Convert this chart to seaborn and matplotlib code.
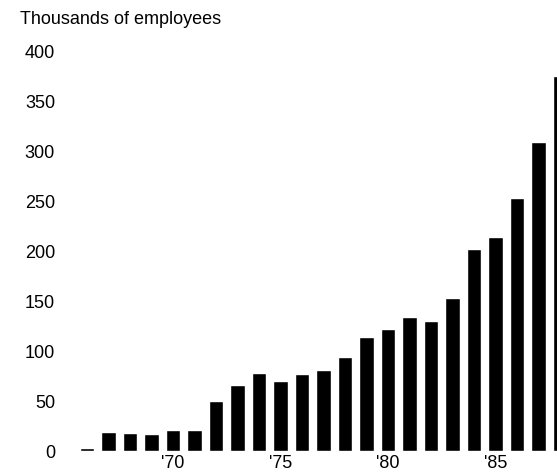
import matplotlib
matplotlib.use("Agg")
import matplotlib.pyplot as plt
import seaborn as sns
import pandas as pd

# Employees (thousands) per year
years = list(range(1966, 1989))
employees = [3, 19, 18, 17, 21, 21, 50, 66, 78, 70, 77, 81, 94, 114,
             122, 134, 130, 153, 202, 214, 253, 309, 375]
tick_years = [1970, 1975, 1980, 1985]
tick_labels = ["'70", "'75", "'80", "'85"]
y_ticks = [0, 50, 100, 150, 200, 250, 300, 350, 400]

df = pd.DataFrame({'Year': [str(y) for y in years], 'Employees': employees})

sns.set_style('white')
plt.rcParams['font.family'] = ['Liberation Sans', 'DejaVu Sans']
plt.rcParams['text.color'] = 'black'
plt.rcParams['xtick.color'] = 'black'
plt.rcParams['ytick.color'] = 'black'

W, H = 557, 472
right_px = W + 40  # axes run past the right edge, last bar is cut off
fig = plt.figure(figsize=(W / 100, H / 100), dpi=100)
ax = fig.add_axes([62 / W, (H - 451) / H, (right_px - 62) / W, (451 - 40) / H])

sns.barplot(data=df, x='Year', y='Employees', color='black', width=0.69,
            saturation=1, ax=ax)

step = 21.5
ax.set_xlim((62 - 87) / step, (right_px - 87) / step)
ax.set_ylim(0, 411)

ax.set_yticks(y_ticks)
ax.set_yticklabels([str(v) for v in y_ticks], fontsize=13)
ax.set_xticks([years.index(y) for y in tick_years])
ax.set_xticklabels(tick_labels, fontsize=13)
ax.tick_params(axis='y', length=0, pad=5)
ax.tick_params(axis='x', length=0, pad=3)
ax.set_xlabel('')
ax.set_ylabel('')
sns.despine(ax=ax, left=True, bottom=True)

fig.text(20 / W, 1 - 20 / H, 'Thousands of employees', ha='left',
         va='center', fontsize=13)

fig.savefig('out.png', dpi=100)
